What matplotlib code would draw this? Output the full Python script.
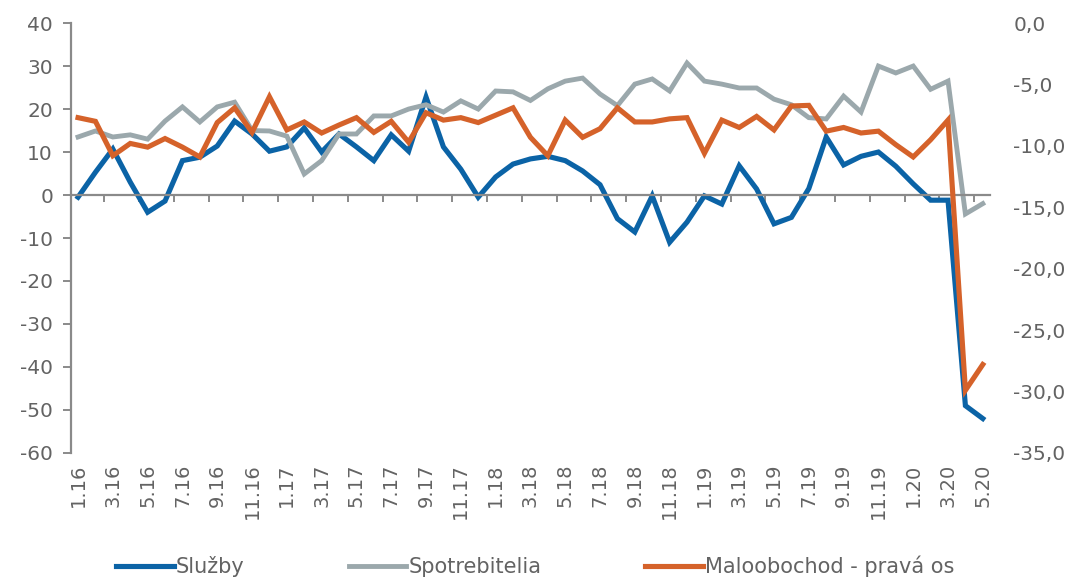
import numpy as np
import matplotlib
matplotlib.use("Agg")
import matplotlib.pyplot as plt
import matplotlib.transforms as mtransforms

# mesiace 1.16 .. 5.20
months = [f"{m}.{y}" for y in range(16, 21) for m in range(1, 13)][:53]

sluzby = [-0.5, 5.3, 10.7, 3.0, -4.0, -1.4, 8.0, 8.8, 11.4, 17.2,
          14.2, 10.2, 11.2, 15.6, 10.0, 14.2, 11.2, 8.0, 14.0, 10.2,
          22.8, 11.2, 6.0, -0.5, 4.2, 7.2, 8.4, 9.0, 8.0, 5.6,
          2.4, -5.5, -8.6, -0.2, -11.0, -6.3, -0.2, -2.1, 6.8, 1.4,
          -6.7, -5.2, 1.5, 13.5, 7.0, 9.0, 10.0, 6.7, 2.6, -1.2,
          -1.2, -49.0, -52.0]

spotrebitelia = [13.5, 14.9, 13.5, 14.0, 13.0, 17.2, 20.5, 17.0, 20.5, 21.6,
                 15.0, 14.9, 13.7, 4.9, 8.0, 14.2, 14.2, 18.4, 18.4, 20.0,
                 21.0, 19.3, 21.9, 20.0, 24.2, 24.0, 22.0, 24.7, 26.5, 27.2,
                 23.5, 20.8, 25.8, 27.0, 24.2, 30.7, 26.5, 25.8, 24.9, 24.9,
                 22.3, 21.0, 18.0, 17.7, 23.0, 19.3, 30.0, 28.4, 30.0, 24.6,
                 26.5, -4.4, -2.0]

maloobchod = [-7.7, -8.0, -10.8, -9.8, -10.1, -9.4, -10.1, -10.9, -8.1, -6.9,
              -8.9, -6.0, -8.7, -8.05, -8.95, -8.3, -7.7, -8.9, -8.0, -9.7,
              -7.3, -7.9, -7.7, -8.1, -7.5, -6.9, -9.3, -10.8, -7.9, -9.3,
              -8.6, -6.9, -8.05, -8.05, -7.8, -7.7, -10.6, -7.9, -8.5, -7.6,
              -8.7, -6.75, -6.7, -8.8, -8.5, -8.95, -8.8, -9.9, -10.9, -9.5,
              -7.9, -29.9, -27.8]

BLUE = "#0b63a6"
GREY = "#9ba8ac"
ORANGE = "#d5622a"
TXT = "#636363"
AXC = "#8a8a8a"

plt.rcParams['font.family'] = ['DejaVu Sans']
plt.rcParams['axes.unicode_minus'] = False
plt.rcParams['font.size'] = 14.5

fig = plt.figure(figsize=(10.77, 5.77), dpi=100)
ax = fig.add_axes([0.066, 0.215, 0.853, 0.745])
ax2 = ax.twinx()

x = np.arange(len(months))
ax.plot(x, sluzby, color=BLUE, lw=3.7, solid_joinstyle='miter', label='Služby')
ax.plot(x, spotrebitelia, color=GREY, lw=3.5, solid_joinstyle='miter', label='Spotrebitelia')
ax2.plot(x, maloobchod, color=ORANGE, lw=3.7, solid_joinstyle='miter',
         label='Maloobochod - pravá os')

ax.set_xlim(-0.4, len(months) - 1 + 0.4)
ax.set_ylim(-60, 40)
ax.set_yticks(np.arange(-60, 41, 10))
ax2.set_ylim(-35, 0)
ax2.set_yticks(np.arange(-35, 0.1, 5))
ax2.set_yticklabels([f"{v:.1f}".replace('.', ',') for v in np.arange(-35, 0.1, 5)])

for a in (ax, ax2):
    for s in ('top', 'right'):
        a.spines[s].set_visible(False)
ax2.spines['left'].set_visible(False)
ax2.spines['bottom'].set_visible(False)
ax.spines['left'].set_color(AXC)
ax.spines['left'].set_linewidth(1.6)

# vodorovná os na nule, značky medzi kategóriami
ax.spines['bottom'].set_position(('data', 0))
ax.spines['bottom'].set_color(AXC)
ax.spines['bottom'].set_linewidth(1.6)
ax.set_xticks(np.arange(1.5, len(months) - 1, 2))
ax.set_xticklabels([])
ax.tick_params(axis='x', length=5, width=1.4, color=AXC, direction='out')
ax.tick_params(axis='y', length=6, width=1.4, color=AXC, labelcolor=TXT, pad=7)
ax2.tick_params(axis='y', length=0, labelcolor=TXT, pad=17)

trans = mtransforms.blended_transform_factory(ax.transData, ax.transAxes)
for i in range(0, len(months), 2):
    ax.text(i, -0.025, months[i], rotation=90, ha='center', va='top',
            color=TXT, fontsize=14, transform=trans)

h1, l1 = ax.get_legend_handles_labels()
h2, l2 = ax2.get_legend_handles_labels()
fig.legend(h1 + h2, l1 + l2, loc='lower center', bbox_to_anchor=(0.497, -0.033),
           ncol=3, frameon=False, handlelength=2.75, handletextpad=0.1,
           columnspacing=5.0, labelcolor=TXT, fontsize=15)

fig.savefig("out.png", dpi=100)
